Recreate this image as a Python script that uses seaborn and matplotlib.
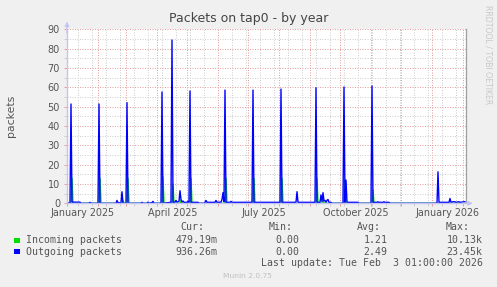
import numpy as np
import pandas as pd
import matplotlib
matplotlib.use("Agg")
import matplotlib.pyplot as plt
import matplotlib.dates as mdates
from matplotlib.patches import Rectangle
import seaborn as sns

# ---------------- data ----------------
title = "Packets on tap0 - by year"
y_label = "packets"
start_date = "2025-01-01"

# Outgoing packets polyline (days since 2025-01-01, packets/s)
out_day = [-1, 3, 4, 5, 13, 14, 22, 23, 24, 31, 32, 33,
           49, 50, 51, 54, 55, 56, 59, 60, 61,
           74, 75, 76, 80, 81, 82, 85, 86, 87, 94, 95, 96,
           102, 104, 105, 106, 108, 109, 110, 112, 113, 114, 115, 116, 117,
           120, 121, 122, 123, 124,
           131, 132, 137, 138, 139, 140, 144, 148, 149, 150, 154, 155, 156, 157,
           158, 159, 163, 164, 165, 185, 186, 187,
           213, 214, 215, 227, 229, 230, 231, 232, 248, 249, 250,
           253, 254, 255, 256, 257, 258, 259, 260, 261, 262, 264, 265,
           276, 277, 278, 279, 280, 291, 292,
           304, 305, 306, 310, 311, 312, 316, 317, 318, 322, 323,
           370, 371, 372, 382, 383, 384, 386, 388, 389, 392, 393, 397, 398]
out_val = [0, 0.3, 51.4, 0.6, 0.6, 0, 0, 0.5, 0, 0, 51.4, 0,
           0, 1.5, 0.3, 0.3, 6.0, 0, 0, 52.1, 0,
           0, 0.5, 0, 0, 0.6, 0, 0.4, 1.0, 0, 0, 57.6, 0,
           0.4, 0.5, 84.5, 0.5, 0.6, 1.5, 0.6, 1.0, 6.5, 2.0, 0.6, 1.2, 0.5,
           0.5, 1.0, 0.5, 58.1, 0.5,
           0.5, 0, 0, 0.5, 1.5, 0.5, 0.5, 0.5, 1.5, 0.5, 0.6, 2.0, 5.5, 0.8,
           58.6, 0.5, 0.5, 1.0, 0.5, 0.5, 58.6, 0.5,
           0.5, 59.1, 0.5, 0.5, 0.6, 6.0, 0.6, 0.5, 0.5, 59.8, 0.5,
           0.5, 4.3, 1.0, 5.5, 1.2, 1.5, 0.5, 1.5, 2.0, 0.5, 0.5, 0,
           0, 60.2, 0.5, 12.0, 0.5, 0.5, 0,
           0, 60.7, 0.5, 0.5, 0.8, 0.5, 0.5, 0.8, 0.5, 0.5, 0,
           0, 16.3, 0.5, 0.5, 2.5, 0.5, 0.8, 0.8, 0.5, 0.8, 0.5, 0.8, 0.8]

# Incoming packets polyline (days since 2025-01-01, packets/s)
in_day = [-1, 4, 5, 6, 32, 33, 34, 55, 56, 57, 60, 61, 62,
          95, 96, 97, 105, 106, 107, 113, 114, 115, 123, 124, 125,
          158, 159, 160, 186, 187, 188, 214, 215, 216, 249, 250, 251,
          255, 256, 257, 277, 278, 279, 305, 306, 307, 398]
in_val = [0, 0, 13.0, 0, 0, 13.0, 0, 0, 1.5, 0, 0, 13.0, 0,
          0, 13.7, 0, 0, 10.0, 0, 0, 1.7, 0, 0, 13.0, 0,
          0, 13.0, 0, 0, 13.0, 0, 0, 13.0, 0, 0, 13.0, 0,
          0, 2.0, 0, 0, 12.0, 0, 0, 7.0, 0, 0]

x_labels = ["January 2025", "April 2025", "July 2025", "October 2025", "January 2026"]
x_label_dates = ["2025-01-16 12:00", "2025-04-16 12:00", "2025-07-17", "2025-10-16 12:00", "2026-01-16 12:00"]
y_ticks = [0, 10, 20, 30, 40, 50, 60, 70, 80, 90]

series_names = ["Incoming packets", "Outgoing packets"]
cur_vals = ["479.19m", "936.26m"]
min_vals = ["0.00", "0.00"]
avg_vals = ["1.21", "2.49"]
max_vals = ["10.13k", "23.45k"]
last_update = "Last update: Tue Feb  3 01:00:00 2026"
version_text = "Munin 2.0.75"
watermark = "RRDTOOL / TOBI OETIKER"

# ---------------- styling ----------------
GREEN = "#00dd00"
BLUE = "#0000ff"
BG = "#f0f0f0"
RED_GRID = "#e6a0a0"
GRAY_GRID = "#cfcfcf"
AXIS = "#c4c4f4"
TXT = "#555555"

W, H = 497, 287
fig = plt.figure(figsize=(W / 100, H / 100), dpi=100, facecolor=BG)
ax_l, ax_r, ax_t, ax_b = 67, 466, 29.4, 203.3
ax = fig.add_axes([ax_l / W, 1 - ax_b / H, (ax_r - ax_l) / W, (ax_b - ax_t) / H])
ax.set_facecolor("white")

base = pd.Timestamp(start_date)
df_out = pd.DataFrame({"date": base + pd.to_timedelta(out_day, unit="D"), "value": out_val})
df_in = pd.DataFrame({"date": base + pd.to_timedelta(in_day, unit="D"), "value": in_val})

sns.lineplot(data=df_in, x="date", y="value", color=GREEN, linewidth=1.0,
             estimator=None, sort=False, ax=ax, zorder=2)
sns.lineplot(data=df_out, x="date", y="value", color=BLUE, linewidth=1.0,
             estimator=None, sort=False, ax=ax, zorder=2.2)

ax.set_xlim(mdates.date2num(base), mdates.date2num(base + pd.Timedelta(days=399)))
ax.set_ylim(0, 90)

major_x = pd.date_range("2025-01-01", "2026-02-01", freq="MS")
minor_x = pd.date_range("2025-01-12", "2026-02-04", freq="14D")
ax.set_xticks(mdates.date2num(major_x))
ax.set_xticks(mdates.date2num(minor_x), minor=True)
ax.set_yticks(y_ticks)
ax.set_yticks([v + 5 for v in y_ticks[:-1]], minor=True)
ax.set_yticklabels([str(v) for v in y_ticks])

ax.set_axisbelow(True)
ax.grid(True, which="minor", color=GRAY_GRID, linestyle=(0, (1, 1.5)), linewidth=0.72)
ax.grid(True, which="major", color=RED_GRID, linestyle=(0, (1, 1.5)), linewidth=0.72)

ax.tick_params(axis="x", which="both", labelbottom=False, length=2, width=0.72)
ax.tick_params(axis="x", which="major", color=RED_GRID)
ax.tick_params(axis="x", which="minor", color=GRAY_GRID)
ax.tick_params(axis="y", which="major", length=2, width=0.72, color=RED_GRID,
               labelsize=7, labelcolor=TXT, pad=3)
ax.tick_params(axis="y", which="minor", length=2, width=0.72, color=GRAY_GRID)
ax.set_xlabel("")
ax.set_ylabel("")

ax.spines["top"].set_visible(False)
ax.spines["right"].set_color("#a0a0a0")
ax.spines["right"].set_linewidth(0.9)
for s in ["left", "bottom"]:
    ax.spines[s].set_color(AXIS)
    ax.spines[s].set_linewidth(1.0)
    ax.spines[s].set_zorder(3)

# axis arrows
ax.annotate("", xy=(0, 1.045), xytext=(0, 0.98), xycoords="axes fraction",
            arrowprops=dict(arrowstyle="-|>", color=AXIS, lw=1.0, mutation_scale=6,
                            shrinkA=0, shrinkB=0), annotation_clip=False)
ax.annotate("", xy=(1.017, 0), xytext=(0.99, 0), xycoords="axes fraction",
            arrowprops=dict(arrowstyle="-|>", color=AXIS, lw=1.0, mutation_scale=6,
                            shrinkA=0, shrinkB=0), annotation_clip=False)

for lab, d in zip(x_labels, x_label_dates):
    ax.text(mdates.date2num(pd.Timestamp(d)), -0.058, lab, transform=ax.get_xaxis_transform(),
            ha="center", va="center", fontsize=6.9, color=TXT)

fig.text(0.5, 1 - 18.5 / H, title, ha="center", va="center", fontsize=9, color="#444444")
fig.text(11 / W, 1 - 116 / H, y_label, rotation=90, ha="center", va="center",
         fontsize=7.8, color=TXT)
fig.text(487.7 / W, 1 - 5 / H, watermark, rotation=270, ha="center", va="top",
         fontsize=5.6, color="#c8c8c8")

# legend / stats block
mono = dict(family="DejaVu Sans Mono", fontsize=7.1, color=TXT)
def fy(y):
    return 1 - y / H

headers = [("Cur:", 204), ("Min:", 292.7), ("Avg:", 381), ("Max:", 470)]
for h, xr in headers:
    fig.text(xr / W, fy(227.3), h, ha="right", va="center", **mono)

row_y = [240, 251.7]
colors = [GREEN, BLUE]
for i in range(2):
    fig.add_artist(Rectangle((14 / W, fy(row_y[i] + 2.5)), 6 / W, 5 / H,
                             transform=fig.transFigure, facecolor=colors[i], edgecolor="none"))
    fig.text(26.3 / W, fy(row_y[i]), series_names[i], ha="left", va="center", **mono)
    fig.text(217.3 / W, fy(row_y[i]), cur_vals[i], ha="right", va="center", **mono)
    fig.text(299 / W, fy(row_y[i]), min_vals[i], ha="right", va="center", **mono)
    fig.text(387.7 / W, fy(row_y[i]), avg_vals[i], ha="right", va="center", **mono)
    fig.text(482.7 / W, fy(row_y[i]), max_vals[i], ha="right", va="center", **mono)

fig.text(482.7 / W, fy(263.3), last_update, ha="right", va="center", **mono)
fig.text(247.5 / W, fy(276), version_text, ha="center", va="center", fontsize=5.4, color="#c0c0c0")

fig.savefig("out.png", dpi=100, facecolor=BG)
